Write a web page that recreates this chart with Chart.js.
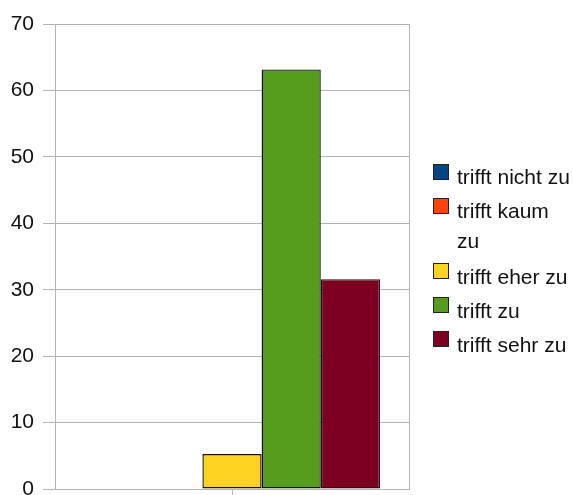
<!DOCTYPE html>
<html>
<head>
<meta charset="utf-8">
<script src="https://cdn.jsdelivr.net/npm/chart.js@4"></script>
<style>
  html, body { margin: 0; padding: 0; background: #fff; }
  #wrap { position: relative; width: 573px; height: 495px; overflow: hidden; }
  #c { position: absolute; left: 0; top: 0; }
  #legend { position: absolute; left: 433px; top: 162.4px; width: 140px;
            font-family: "Liberation Sans", Arial, sans-serif; font-size: 21px; color: #111; }
  .item { position: relative; padding-left: 24px; line-height: 30px; width: 116px; margin-bottom: 4px; }
  .item:nth-child(2) { margin-bottom: 5.3px; }
  .box { position: absolute; left: 0; top: 1.3px; width: 14px; height: 14px; border: 1px solid #222; }
</style>
</head>
<body>
<div id="wrap">
  <canvas id="c" width="573" height="495"></canvas>
  <div id="legend"></div>
</div>
<script>
const categories = [''];
const seriesLabels = ['trifft nicht zu', 'trifft kaum zu', 'trifft eher zu', 'trifft zu', 'trifft sehr zu'];
const seriesValues = [0, 0, 5.26, 63.16, 31.58];
const seriesColors = ['#004586', '#ff420e', '#ffd320', '#579d1c', '#7e0021'];
const yTicks = [0, 10, 20, 30, 40, 50, 60, 70];

const FONT = '"Liberation Sans", Arial, sans-serif';
const GRID = '#b3b3b3';

const datasets = seriesLabels.map((label, i) => ({
  label: label,
  data: [seriesValues[i]],
  backgroundColor: seriesColors[i],
  borderColor: '#111111',
  borderWidth: 1.4,
  borderSkipped: false,
  inflateAmount: 0,
  categoryPercentage: 0.836,
  barPercentage: 1.0
}));

const chart = new Chart(document.getElementById('c'), {
  type: 'bar',
  data: { labels: categories, datasets: datasets },
  options: {
    responsive: false,
    animation: false,
    devicePixelRatio: 1,
    layout: { padding: { left: 0, top: 24, right: 164, bottom: 0 } },
    plugins: { legend: { display: false }, tooltip: { enabled: false } },
    scales: {
      x: {
        type: 'category',
        offset: true,
        grid: { display: true, drawOnChartArea: false, offset: false, color: GRID, tickLength: 6 },
        border: { display: true, color: GRID },
        ticks: { display: false },
        afterFit: (s) => { s.height = 6; s.paddingLeft = 0; s.paddingRight = 0; }
      },
      y: {
        min: 0, max: 70,
        afterBuildTicks: (s) => { s.ticks = yTicks.map(v => ({ value: v })); },
        grid: { color: GRID, tickLength: 12 },
        border: { display: true, color: GRID },
        ticks: { padding: 9, color: '#111', font: { family: FONT, size: 21 } },
        afterFit: (s) => { s.width = 55; s.paddingTop = 0; s.paddingBottom = 0; }
      },
      y2: {
        position: 'right',
        min: 0, max: 70,
        grid: { drawOnChartArea: false, drawTicks: false },
        border: { display: true, color: GRID },
        ticks: { display: false },
        afterFit: (s) => { s.width = 0; s.paddingTop = 0; s.paddingBottom = 0; }
      }
    }
  }
});

const legend = document.getElementById('legend');
chart.data.datasets.forEach(ds => {
  const item = document.createElement('div');
  item.className = 'item';
  const box = document.createElement('span');
  box.className = 'box';
  box.style.background = ds.backgroundColor;
  item.appendChild(box);
  item.appendChild(document.createTextNode(ds.label));
  legend.appendChild(item);
});
</script>
</body>
</html>
